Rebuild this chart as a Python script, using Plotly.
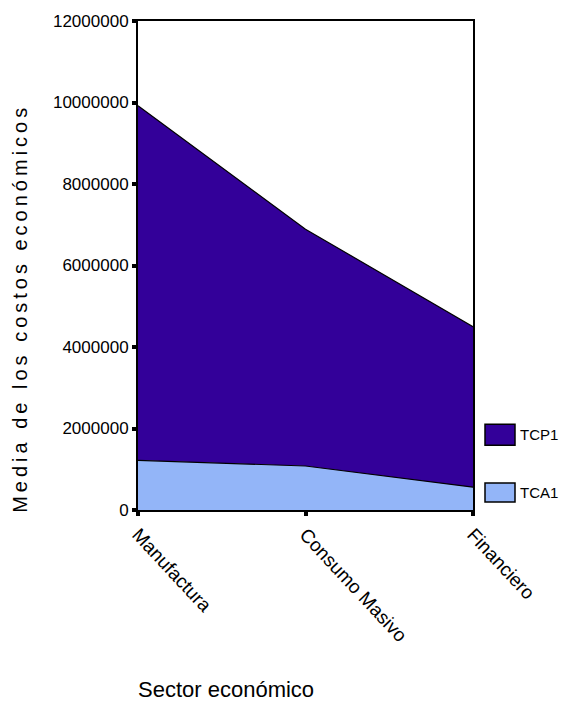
import plotly.graph_objects as go

sectors = ["Manufactura", "Consumo Masivo", "Financiero"]
tca1 = [1220000, 1080000, 560000]
tcp1 = [8700000, 5810000, 3940000]
series_names = ["TCA1", "TCP1"]
y_ticks = [0, 2000000, 4000000, 6000000, 8000000, 10000000, 12000000]

c_tca = "#93b5f8"
c_tcp = "#330099"
font = "Liberation Sans, Arial, sans-serif"

fig = go.Figure()
fig.add_trace(go.Scatter(x=sectors, y=tca1, name=series_names[0], stackgroup="s",
                         mode="lines", line=dict(color="black", width=1.2),
                         fillcolor=c_tca))
fig.add_trace(go.Scatter(x=sectors, y=tcp1, name=series_names[1], stackgroup="s",
                         mode="lines", line=dict(color="black", width=1.2),
                         fillcolor=c_tcp))

fig.update_layout(
    width=561, height=708,
    margin=dict(l=138, r=88, t=19, b=198),
    plot_bgcolor="white", paper_bgcolor="white",
    showlegend=False,
    font=dict(family=font, color="black"),
)
fig.update_xaxes(type="category", range=[0, 2], showgrid=False,
                 showline=True, linecolor="black", linewidth=2, mirror=True,
                 ticks="outside", ticklen=4, tickwidth=4, tickcolor="black",
                 tickangle=47, tickfont=dict(size=19, family=font))
fig.update_yaxes(range=[0, 12000000], tickvals=y_ticks, tickformat="d",
                 showgrid=False, zeroline=False,
                 showline=True, linecolor="black", linewidth=2, mirror=True,
                 ticks="outside", ticklen=4, tickwidth=4, tickcolor="black",
                 tickfont=dict(size=17, family=font))

# legend drawn as boxes + labels
legend_items = [(series_names[1], c_tcp, 424, 445), (series_names[0], c_tca, 483, 502)]
for name, col, y0, y1 in legend_items:
    fig.add_shape(type="rect", xref="paper", yref="paper",
                  x0=(485 - 138) / 335, x1=(515 - 138) / 335,
                  y0=(510 - y1) / 491, y1=(510 - y0) / 491,
                  fillcolor=col, line=dict(color="black", width=1.5))
    fig.add_annotation(text=name, xref="paper", yref="paper",
                       x=(518 - 138) / 335, y=(510 - (y0 + y1) / 2) / 491,
                       xanchor="left", yanchor="middle", showarrow=False,
                       font=dict(size=15, family=font))

fig.add_annotation(text="Sector económico", xref="paper", yref="paper",
                   x=(226 - 138) / 335, y=(510 - 690) / 491,
                   xanchor="center", yanchor="middle", showarrow=False,
                   font=dict(size=22, family=font))
fig.add_annotation(text='<span style="letter-spacing:4px">Media de los costos económicos</span>',
                   xref="paper", yref="paper",
                   x=(20 - 138) / 335, y=(510 - 308) / 491, textangle=-90,
                   xanchor="center", yanchor="middle", showarrow=False,
                   font=dict(size=20, family=font))

fig.write_html("out.html", config={"displayModeBar": False},
               post_script="document.body.style.margin='0px';")
